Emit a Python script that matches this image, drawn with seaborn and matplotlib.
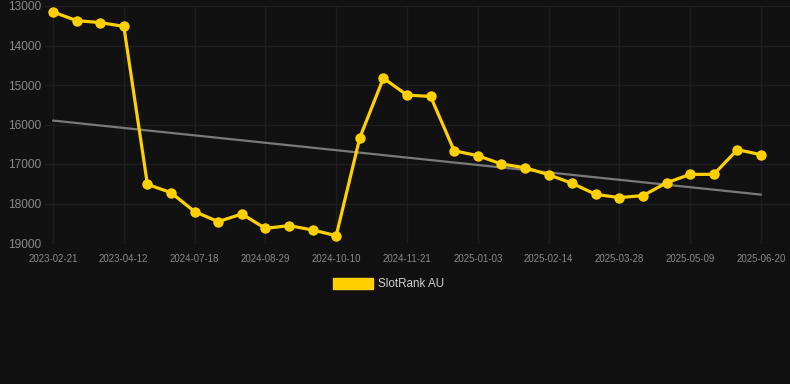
import matplotlib
matplotlib.use("Agg")
import matplotlib.pyplot as plt
import matplotlib.patches as mpatches
import seaborn as sns
import pandas as pd
import numpy as np

dates = ["2023-02-21", "2023-03-08", "2023-03-24", "2023-04-12", "2024-05-23",
         "2024-06-20", "2024-07-18", "2024-08-01", "2024-08-15", "2024-08-29",
         "2024-09-12", "2024-09-26", "2024-10-10", "2024-10-24", "2024-11-07",
         "2024-11-21", "2024-12-05", "2024-12-19", "2025-01-03", "2025-01-17",
         "2025-01-31", "2025-02-14", "2025-02-28", "2025-03-14", "2025-03-28",
         "2025-04-11", "2025-04-25", "2025-05-09", "2025-05-23", "2025-06-06",
         "2025-06-20"]
ranks = [13150, 13370, 13420, 13515, 17515, 17725, 18205, 18460, 18265, 18630,
         18560, 18670, 18815, 16335, 14825, 15255, 15290, 16665, 16790, 17000,
         17095, 17270, 17490, 17770, 17850, 17800, 17475, 17262, 17262, 16637,
         16765]
trend_values = [15900, 17775]
series_name = "SlotRank AU"

bg = "#111111"
gold = "#FFD000"
grid_c = "#1e1e1e"
text_c = "#8a8a8a"

sns.set_theme(style="dark")
plt.rcParams["font.family"] = ["Liberation Sans", "DejaVu Sans"]

fig = plt.figure(figsize=(7.9, 3.84), dpi=100, facecolor=bg)
ax = fig.add_axes([45 / 790, 1 - 243 / 384, 745 / 790, (243 - 6) / 384])
ax.set_facecolor(bg)

df = pd.DataFrame({"idx": np.arange(len(dates)), "rank": ranks})
trend_df = pd.DataFrame({"idx": [0, len(dates) - 1], "rank": trend_values})

sns.lineplot(data=trend_df, x="idx", y="rank", ax=ax, color="#7a7a7a",
             linewidth=1.6, zorder=2)
sns.lineplot(data=df, x="idx", y="rank", ax=ax, color=gold, linewidth=2.3,
             marker="o", markersize=7.5, markeredgewidth=0,
             markeredgecolor=gold, zorder=3)

ax.set_xlim(-8 / 23.6, 30 + 29 / 23.6)
ax.set_ylim(19000, 13000)
yt = [13000, 14000, 15000, 16000, 17000, 18000, 19000]
ax.set_yticks(yt)
ax.set_yticklabels([str(v) for v in yt], fontsize=8.6, color=text_c)
tick_idx = list(range(0, len(dates), 3))
ax.set_xticks(tick_idx)
ax.set_xticklabels([dates[i] for i in tick_idx], fontsize=6.9, color=text_c)
ax.tick_params(axis="x", length=5, color="#262626", pad=3, width=1)
ax.tick_params(axis="y", length=0, pad=3)
ax.set_xlabel("")
ax.set_ylabel("")
ax.grid(True, color=grid_c, linewidth=1.0)
for s in ax.spines.values():
    s.set_visible(False)

handle = mpatches.Patch(facecolor=gold, edgecolor=gold, label=series_name)
leg = fig.legend(handles=[handle], loc="center", bbox_to_anchor=(389 / 790, 1 - 284 / 384),
                 frameon=False, fontsize=8.4, handlelength=3.4, handleheight=1.1,
                 handletextpad=0.45)
for t in leg.get_texts():
    t.set_color("#d0d0d0")

fig.savefig("out.png", dpi=100, facecolor=bg)
